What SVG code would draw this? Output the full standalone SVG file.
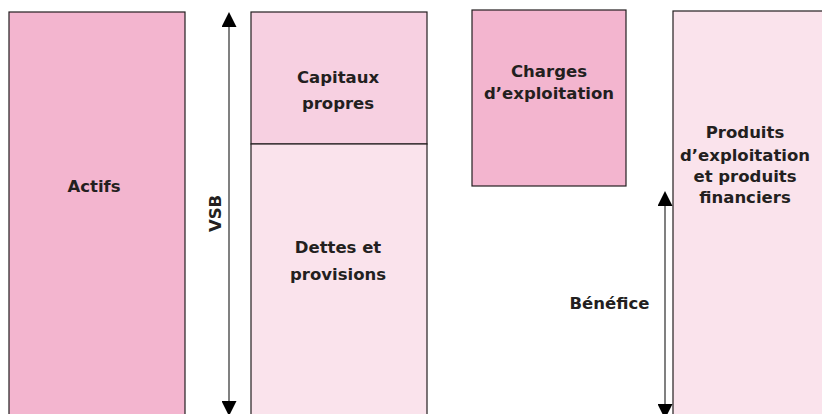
<svg xmlns="http://www.w3.org/2000/svg" width="822" height="414" viewBox="0 0 822 414">
<style>
  .box { stroke: #231f20; stroke-width: 1.2; }
  .dark { fill: #f3b5cf; }
  .mid { fill: #f7d0e1; }
  .light { fill: #fae3ec; }
  .lbl { font-family: "DejaVu Sans", "Liberation Sans", sans-serif; font-weight: bold; font-size: 16.5px; fill: #231f20; text-anchor: middle; }
  .arr { stroke: #808080; stroke-width: 2; fill: none; }
</style>
<defs>
  <marker id="head" viewBox="0 0 15 15" refX="0" refY="7.5" markerWidth="15" markerHeight="15" markerUnits="userSpaceOnUse" orient="auto-start-reverse">
    <path d="M0,0 L15,7.5 L0,15 Z" fill="#000"/>
  </marker>
</defs>
<rect width="822" height="414" fill="#fff"/>
<g id="actifs">
  <rect class="box dark" x="9" y="12" width="176" height="410"/>
  <text class="lbl" x="94" y="192">Actifs</text>
</g>
<g id="capitaux">
  <rect class="box mid" x="251" y="12" width="176" height="132"/>
  <text class="lbl" x="338" y="83">Capitaux</text>
  <text class="lbl" x="338" y="109">propres</text>
</g>
<g id="dettes">
  <rect class="box light" x="251" y="144" width="176" height="280"/>
  <text class="lbl" x="338" y="253">Dettes et</text>
  <text class="lbl" x="338" y="280">provisions</text>
</g>
<g id="charges">
  <rect class="box dark" x="472" y="10" width="154" height="176"/>
  <text class="lbl" x="549" y="77">Charges</text>
  <text class="lbl" x="549" y="99">d’exploitation</text>
</g>
<g id="produits">
  <rect class="box light" x="673" y="11" width="160" height="420"/>
  <text class="lbl" x="745" y="138">Produits</text>
  <text class="lbl" x="745" y="161">d’exploitation</text>
  <text class="lbl" x="745" y="182">et produits</text>
  <text class="lbl" x="745" y="203">financiers</text>
</g>
<g id="vsb">
  <text class="lbl" transform="translate(221,213.5) rotate(-90)" x="0" y="0">VSB</text>
</g>
<g id="benefice">
  <text class="lbl" x="609.5" y="309">Bénéfice</text>
</g>
<g id="connectors">
  <line class="arr" x1="229" y1="27" x2="229" y2="401" marker-start="url(#head)" marker-end="url(#head)"/>
  <line class="arr" x1="665" y1="206" x2="665" y2="404" marker-start="url(#head)" marker-end="url(#head)"/>
</g>
</svg>
